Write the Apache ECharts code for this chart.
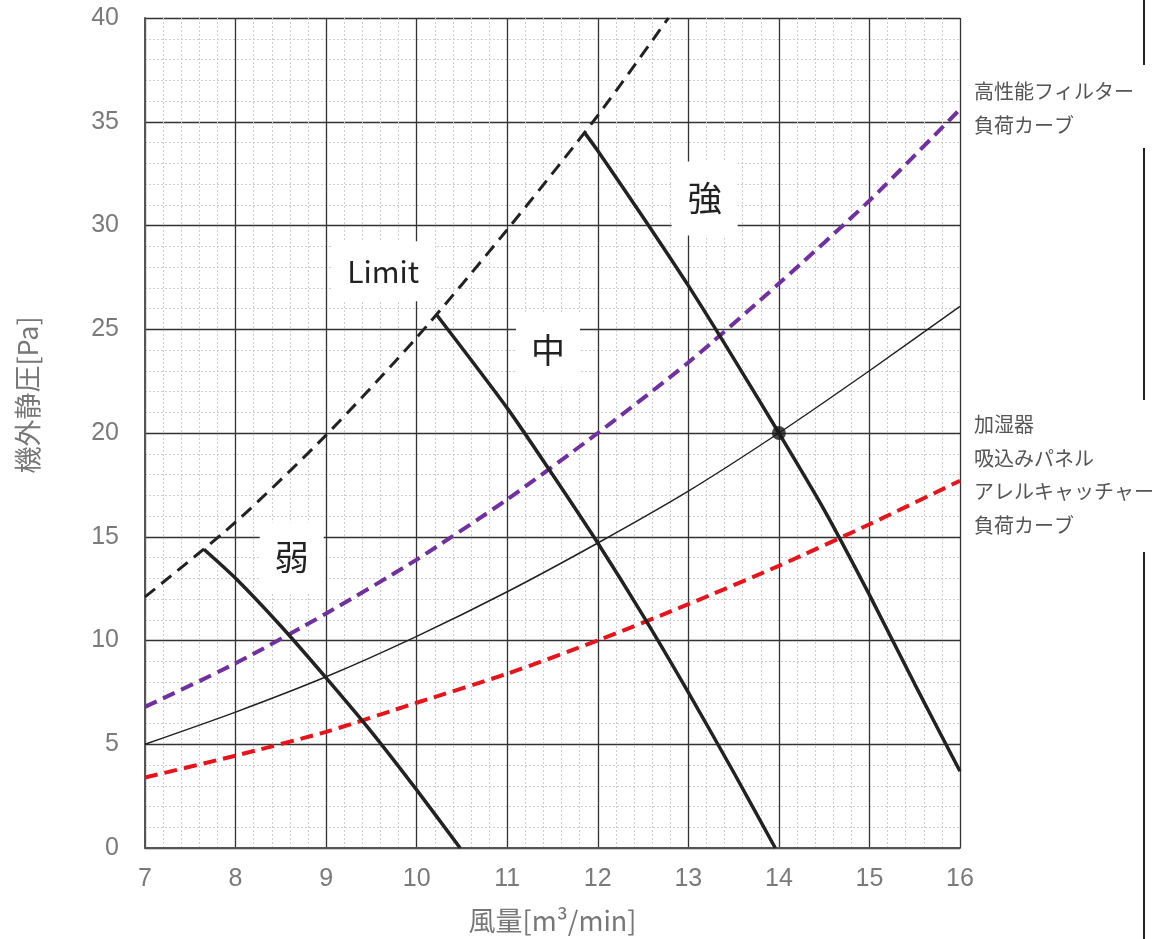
<!DOCTYPE html>
<html>
<head>
<meta charset="utf-8">
<title>機外静圧</title>
<style>
  html, body { margin: 0; padding: 0; background: #fff; }
  #main { width: 1162px; height: 939px; }
</style>
</head>
<body>
<div id="main"></div>
<script src="https://cdn.jsdelivr.net/npm/echarts@6/dist/echarts.min.js"></script>
<script>
// 風量 [m3/min] , 機外静圧 [Pa]
var limitCurve  = [[7, 12.1], [8, 15.7], [9, 19.9], [10, 24.6], [11, 29.8], [12, 35.3], [12.78, 40]];
var filterCurve = [[7, 6.8], [8, 8.9], [9, 11.3], [10, 13.9], [11, 16.8], [12, 20.0], [13, 23.4], [14, 27.2], [15, 31.2], [16, 35.6]];
var humidCurve  = [[7, 3.4], [8, 4.45], [9, 5.6], [10, 7.0], [11, 8.4], [12, 10.0], [13, 11.75], [14, 13.6], [15, 15.6], [16, 17.7]];
var systemCurve = [[7, 5.0], [8, 6.55], [9, 8.25], [10, 10.2], [11, 12.35], [12, 14.7], [13, 17.2], [14, 20.0], [15, 23.0], [16, 26.1]];
var fanLow  = [[7.65, 14.4], [8, 13.0], [8.5, 10.7], [9, 8.2], [9.5, 5.6], [10, 2.8], [10.48, 0]];
var fanMid  = [[10.22, 25.7], [11, 21.2], [11.5, 18.0], [12, 14.7], [12.5, 11.2], [13, 7.5], [13.5, 3.65], [13.96, 0]];
var fanHigh = [[11.85, 34.5], [12, 33.6], [12.5, 30.4], [13, 27.1], [13.5, 23.6], [14, 20.0], [14.5, 16.3], [15, 12.2], [15.5, 7.9], [16, 3.7]];
var opPoint = [[14, 20]];

var fanNames = ['弱', '中', '強'];
var filterText = ['高性能フィルター', '負荷カーブ'];
var humidText = ['加湿器', '吸込みパネル', 'アレルキャッチャー', '負荷カーブ'];

var myChart = echarts.init(document.getElementById('main'));

var labelBox = function (name, coord, w, h, size) {
    return {
        name: name,
        coord: coord,
        symbol: 'rect',
        symbolSize: [w, h],
        itemStyle: { color: '#fff' },
        label: {
            show: true, position: 'inside', formatter: '{b}',
            color: '#222', fontSize: size,
            fontFamily: '"Noto Sans CJK JP", "Noto Sans", sans-serif'
        }
    };
};

var fanLine = function (data, mark) {
    return {
        type: 'line', data: data, smooth: 0.25,
        showSymbol: false, z: 5,
        lineStyle: { color: '#222', width: 3.5 },
        markPoint: { silent: true, z: 3, data: [mark] }
    };
};

var tickFont = '"Liberation Sans", Arial, sans-serif';
var cjkFont = '"Noto Sans CJK JP", sans-serif';

var option = {
    animation: false,
    grid: { left: 145, right: 202, top: 18, bottom: 89 },
    xAxis: {
        type: 'value', min: 7, max: 16, interval: 1,
        name: '風量[m³/min]', nameLocation: 'middle', nameGap: 59,
        nameTextStyle: { color: '#777', fontSize: 27, fontFamily: cjkFont },
        axisLine: { show: true, lineStyle: { color: '#555', width: 2 } },
        axisTick: { show: false },
        axisLabel: { color: '#7a7a7a', fontSize: 25, margin: 19, fontFamily: tickFont },
        splitLine: { show: true, lineStyle: { color: '#333', width: 1.3 } },
        minorTick: { show: false, splitNumber: 5 },
        minorSplitLine: { show: true, lineStyle: { color: '#cdcdcd', width: 1, type: [2, 2] } }
    },
    yAxis: {
        type: 'value', min: 0, max: 40, interval: 5,
        name: '機外静圧[Pa]', nameLocation: 'middle', nameGap: 104,
        nameTextStyle: { color: '#777', fontSize: 27, fontFamily: cjkFont, padding: [0, 0, 0, 76] },
        axisLine: { show: true, lineStyle: { color: '#555', width: 2 } },
        axisTick: { show: false },
        axisLabel: { color: '#7a7a7a', fontSize: 25, margin: 26, fontFamily: tickFont },
        splitLine: { show: true, lineStyle: { color: '#333', width: 1.3 } },
        minorTick: { show: false, splitNumber: 5 },
        minorSplitLine: { show: true, lineStyle: { color: '#cdcdcd', width: 1, type: [2, 2] } }
    },
    series: [
        {
            type: 'line', data: humidCurve, smooth: 0.25, showSymbol: false,
            lineStyle: { color: '#e8141b', width: 4, type: [13, 7] }
        },
        {
            type: 'line', data: filterCurve, smooth: 0.25, showSymbol: false,
            lineStyle: { color: '#7030a0', width: 4, type: [13, 7] }
        },
        {
            type: 'line', data: systemCurve, smooth: 0.25, showSymbol: false,
            lineStyle: { color: '#222', width: 1.5 }
        },
        {
            type: 'line', data: limitCurve, smooth: 0.25, showSymbol: false,
            lineStyle: { color: '#222', width: 3, type: [13, 8] },
            markPoint: { silent: true, z: 3, data: [labelBox('Limit', [9.63, 27.8], 104, 60, 30)] }
        },
        fanLine(fanLow, labelBox(fanNames[0], [8.62, 14.0], 64, 70, 34)),
        fanLine(fanMid, labelBox(fanNames[1], [11.45, 24.0], 64, 74, 34)),
        fanLine(fanHigh, labelBox(fanNames[2], [13.18, 31.3], 66, 74, 34)),
        {
            type: 'scatter', data: opPoint, symbolSize: 14, z: 6,
            itemStyle: { color: '#1a1a1a' }
        }
    ],
    graphic: [
        { type: 'line', shape: { x1: 1144, y1: 0, x2: 1144, y2: 65 }, style: { stroke: '#222', lineWidth: 2 } },
        { type: 'line', shape: { x1: 1144, y1: 148, x2: 1144, y2: 400 }, style: { stroke: '#222', lineWidth: 2 } },
        { type: 'line', shape: { x1: 1144, y1: 552, x2: 1144, y2: 939 }, style: { stroke: '#222', lineWidth: 2 } },
        {
            type: 'text', left: 974, top: 74,
            style: { text: filterText.join('\n'), fill: '#555', font: '20px ' + cjkFont, lineHeight: 34 }
        },
        {
            type: 'text', left: 974, top: 408,
            style: { text: humidText.join('\n'), fill: '#555', font: '20px ' + cjkFont, lineHeight: 33.5 }
        }
    ]
};

myChart.setOption(option);
</script>
</body>
</html>
